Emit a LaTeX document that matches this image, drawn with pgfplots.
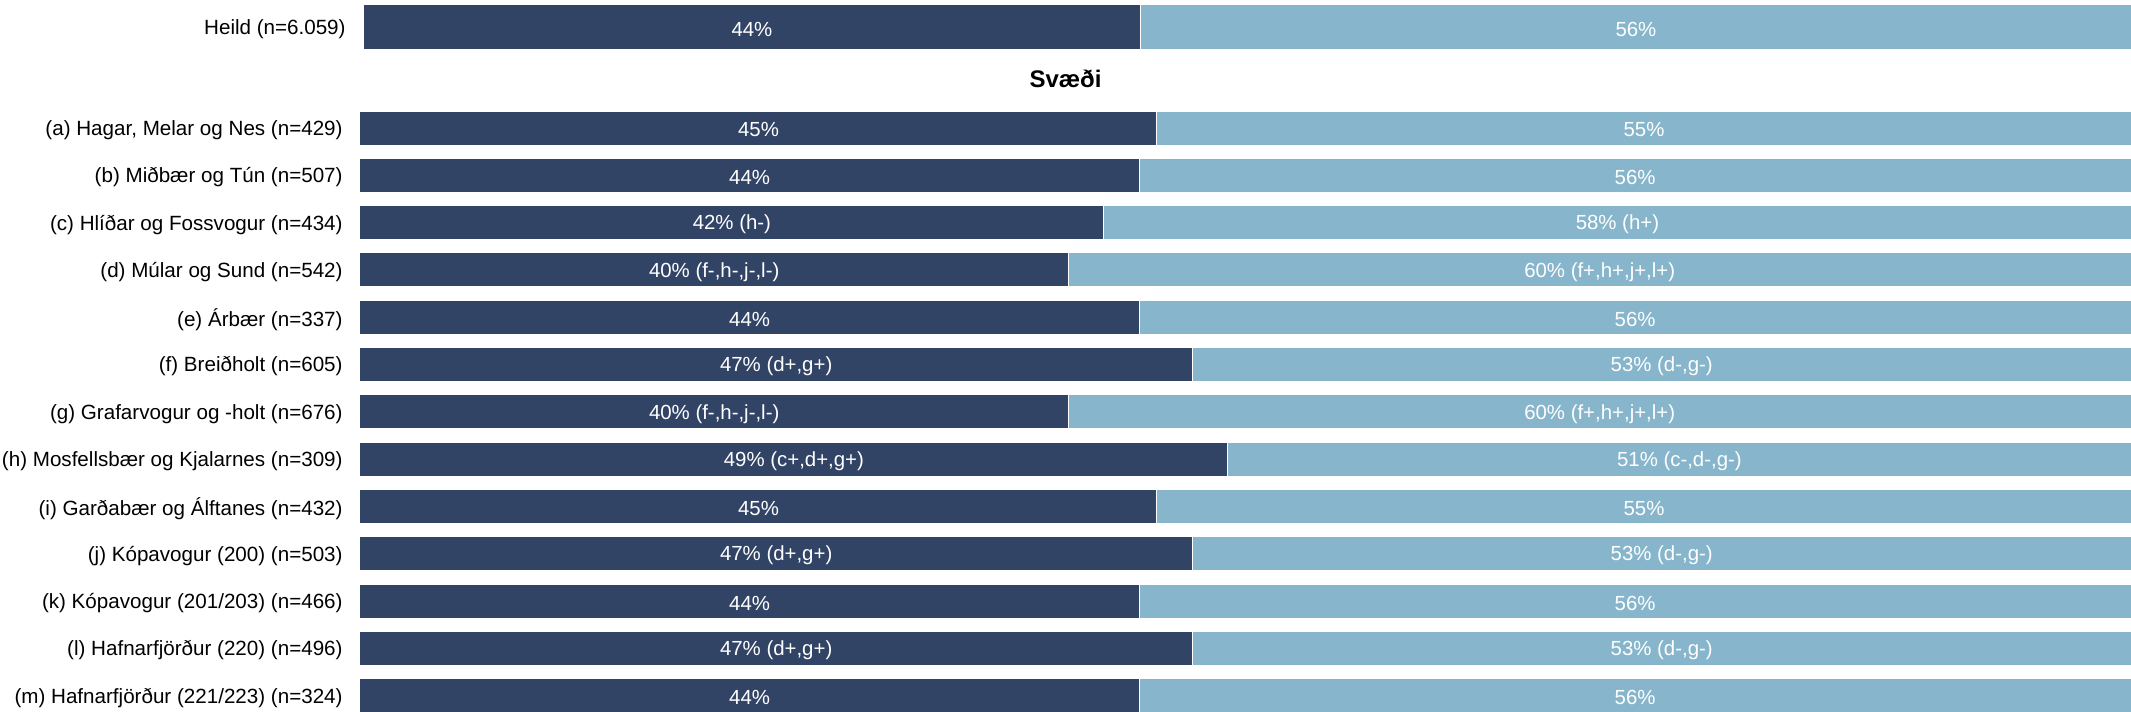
\documentclass[border=0pt]{standalone}
\usepackage{pgfplots}
\pgfplotsset{compat=1.18}
\usepackage{pgfplotstable}
\usepackage{fontspec}
\setmainfont{Liberation Sans}
\definecolor{darkbar}{HTML}{324466}
\definecolor{lightbar}{HTML}{87B6CC}

\pgfplotstableread[col sep=semicolon]{
y;a;b;la;lb
0;44;56;44\%;56\%
}\heild

\pgfplotstableread[col sep=semicolon]{
y;a;b;la;lb
0;45;55;45\%;55\%
1;44;56;44\%;56\%
2;42;58;42\% (h-);58\% (h+)
3;40;60;40\% (f-,h-,j-,l-);60\% (f+,h+,j+,l+)
4;44;56;44\%;56\%
5;47;53;47\% (d+,g+);53\% (d-,g-)
6;40;60;40\% (f-,h-,j-,l-);60\% (f+,h+,j+,l+)
7;49;51;49\% (c+,d+,g+);51\% (c-,d-,g-)
8;45;55;45\%;55\%
9;47;53;47\% (d+,g+);53\% (d-,g-)
10;44;56;44\%;56\%
11;47;53;47\% (d+,g+);53\% (d-,g-)
12;44;56;44\%;56\%
}\regions

\pgfplotsset{
  base/.style={
    scale only axis,
    xmin=0, xmax=100,
    axis line style={draw=none},
    tick style={draw=none},
    major tick length=0pt,
    xtick=\empty,
    yticklabel style={anchor=east, inner sep=0pt, xshift=-8.5pt, yshift=-1pt, font=\fontsize{10.3}{12}\selectfont, text=black},
    clip=false,
  },
  heildgeom/.style={
    base,
    at={(181.5pt,-2.25pt)}, anchor=north west,
    width=884pt, height=22.5pt,
    ymin=-0.5, ymax=0.5,
  },
  reggeom/.style={
    base,
    at={(180pt,-52.175pt)}, anchor=north west,
    width=885.5pt, height=307.45pt,
    ymin=-0.5, ymax=12.5, y dir=reverse,
  },
  pctlabel/.style={
    only marks, mark=none,
    nodes near coords, point meta=explicit symbolic,
    every node near coord/.append style={anchor=center, yshift=-1pt, text=white, font=\fontsize{10.2}{12}\selectfont},
  },
  segbar/.style={fill=#1, draw=white, line width=0.5pt},
}

\begin{document}
\begin{tikzpicture}
\path[use as bounding box] (0,0) rectangle (1065.5pt,-356pt);

% Heild bars
\begin{axis}[heildgeom, xbar stacked, bar width=22.5pt,
  ytick={0}, yticklabels={Heild (n=6.059)}]
\addplot[segbar=darkbar] table[x=a, y=y] {\heild};
\addplot[segbar=lightbar] table[x=b, y=y] {\heild};
\end{axis}
% Heild labels
\begin{axis}[heildgeom, ytick=\empty]
\addplot[pctlabel] table[x expr=\thisrow{a}/2, y=y, meta=la] {\heild};
\addplot[pctlabel] table[x expr=\thisrow{a}+\thisrow{b}/2, y=y, meta=lb] {\heild};
\end{axis}

\node[font=\fontsize{12}{14}\selectfont\bfseries] at (532.75pt,-39.4pt) {Svæði};

% Region bars
\begin{axis}[reggeom, xbar stacked, bar width=17pt,
  ytick={0,...,12},
  yticklabels={
    {(a) Hagar, Melar og Nes (n=429)},
    {(b) Miðbær og Tún (n=507)},
    {(c) Hlíðar og Fossvogur (n=434)},
    {(d) Múlar og Sund (n=542)},
    {(e) Árbær (n=337)},
    {(f) Breiðholt (n=605)},
    {(g) Grafarvogur og -holt (n=676)},
    {(h) Mosfellsbær og Kjalarnes (n=309)},
    {(i) Garðabær og Álftanes (n=432)},
    {(j) Kópavogur (200) (n=503)},
    {(k) Kópavogur (201/203) (n=466)},
    {(l) Hafnarfjörður (220) (n=496)},
    {(m) Hafnarfjörður (221/223) (n=324)}},
]
\addplot[segbar=darkbar] table[x=a, y=y] {\regions};
\addplot[segbar=lightbar] table[x=b, y=y] {\regions};
\end{axis}
% Region labels
\begin{axis}[reggeom, ytick=\empty]
\addplot[pctlabel] table[x expr=\thisrow{a}/2, y=y, meta=la] {\regions};
\addplot[pctlabel] table[x expr=\thisrow{a}+\thisrow{b}/2, y=y, meta=lb] {\regions};
\end{axis}
\end{tikzpicture}
\end{document}
